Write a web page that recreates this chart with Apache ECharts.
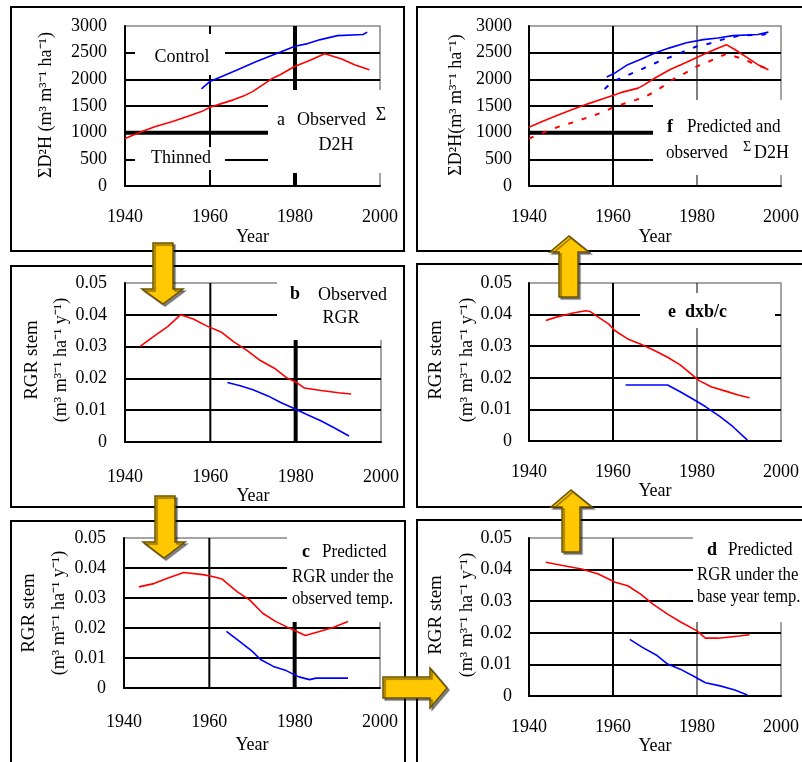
<!DOCTYPE html>
<html><head><meta charset="utf-8">
<script src="https://cdn.jsdelivr.net/npm/echarts@6/dist/echarts.min.js"></script>
<style>html,body{margin:0;padding:0;background:#fff}#c{width:802px;height:762px}</style>
</head><body><div id="c"></div>
<script>
// ---------- DATA ----------
const yearTicks = [1940, 1960, 1980, 2000];
// Panel a : observed sum D2H
const aThinYear = [1940, 1944, 1947, 1951, 1954.5, 1958, 1960, 1962.5, 1965.5, 1968, 1970, 1972.5, 1974.5, 1976.5, 1980, 1983, 1987, 1991, 1994, 1997.5];
const aThinVal  = [890, 1020, 1110, 1205, 1300, 1395, 1475, 1540, 1615, 1690, 1770, 1900, 2010, 2085, 2245, 2340, 2480, 2380, 2275, 2180];
const aCtrlYear = [1958, 1960, 1962.5, 1966.5, 1970.5, 1974.5, 1980, 1983, 1986, 1990, 1996, 1997];
const aCtrlVal  = [1820, 1960, 2045, 2180, 2320, 2445, 2620, 2670, 2745, 2820, 2840, 2885];
// Panel f : predicted sum D2H (observed = panel a, dashed)
const fThinYear = [1940, 1943, 1946.5, 1950, 1954, 1958, 1962, 1966, 1967.5, 1970, 1973.5, 1977.5, 1981.5, 1984.5, 1987, 1989, 1991.5, 1994.5, 1997];
const fThinVal  = [1100, 1205, 1315, 1425, 1540, 1645, 1755, 1835, 1900, 2025, 2180, 2320, 2465, 2570, 2650, 2560, 2430, 2275, 2180];
const fCtrlYear = [1958.5, 1960.5, 1963.5, 1966.5, 1970, 1973.5, 1977.5, 1981.5, 1985, 1988.5, 1994.5, 1997];
const fCtrlVal  = [2045, 2120, 2275, 2370, 2495, 2590, 2685, 2745, 2775, 2820, 2840, 2885];
// Panel b : observed RGR
const bThinYear = [1943.5, 1946.5, 1950, 1953, 1956, 1959, 1962.5, 1965.5, 1968.5, 1971.5, 1975, 1978, 1980, 1982, 1986, 1990, 1993];
const bThinVal  = [0.030, 0.033, 0.0363, 0.040, 0.0387, 0.0366, 0.0346, 0.0315, 0.0289, 0.0258, 0.0232, 0.0201, 0.0189, 0.0170, 0.0162, 0.0155, 0.0151];
const bCtrlYear = [1964, 1967, 1970, 1973.5, 1976.5, 1979.5, 1982.5, 1986, 1989, 1992.5];
const bCtrlVal  = [0.0187, 0.0177, 0.0164, 0.0145, 0.0124, 0.0106, 0.0087, 0.0066, 0.0045, 0.0019];
// Panel e : d x b / c
const eThinYear = [1944, 1946.5, 1950.5, 1953.5, 1954.5, 1956.5, 1959, 1960.5, 1963.5, 1966.5, 1969.5, 1973, 1976, 1978.5, 1980.5, 1983.5, 1987, 1990, 1992.5];
const eThinVal  = [0.0381, 0.0392, 0.0405, 0.0412, 0.0410, 0.0392, 0.0370, 0.0349, 0.0323, 0.0307, 0.0289, 0.0265, 0.0241, 0.0213, 0.0191, 0.0171, 0.0157, 0.0145, 0.0137];
const eCtrlYear = [1963, 1973, 1976, 1979, 1982, 1985.5, 1988.5, 1992];
const eCtrlVal  = [0.0177, 0.0177, 0.0156, 0.0133, 0.0109, 0.0077, 0.0046, 0.0003];
// Panel c : predicted RGR, observed temp.
const cThinYear = [1943.5, 1947, 1950, 1954, 1958.5, 1961, 1963, 1966.5, 1969.5, 1972.5, 1975.5, 1979, 1982.5, 1986, 1989, 1992.5];
const cThinVal  = [0.0337, 0.0348, 0.0365, 0.0385, 0.0378, 0.0371, 0.0363, 0.0321, 0.0293, 0.0249, 0.0222, 0.0198, 0.0175, 0.0189, 0.0202, 0.0222];
const cCtrlYear = [1964, 1967, 1970, 1972, 1975, 1978, 1981, 1983.5, 1985, 1992.5];
const cCtrlVal  = [0.0189, 0.0156, 0.0123, 0.0095, 0.0072, 0.0058, 0.0037, 0.0028, 0.0033, 0.0033];
// Panel d : predicted RGR, base year temp.
const dThinYear = [1944, 1948, 1952.5, 1956.5, 1960.5, 1963.5, 1966.5, 1969.5, 1973, 1976, 1980, 1982, 1985, 1990, 1992.5];
const dThinVal  = [0.0423, 0.0413, 0.0402, 0.0386, 0.0360, 0.0349, 0.0323, 0.0291, 0.0259, 0.0235, 0.0206, 0.0183, 0.0183, 0.0190, 0.0194];
const dCtrlYear = [1964, 1967, 1970.5, 1973, 1976, 1979, 1982, 1985.5, 1989, 1992];
const dCtrlVal  = [0.0179, 0.0154, 0.0128, 0.0101, 0.0085, 0.0064, 0.0042, 0.0032, 0.0019, 0.0003];
const d2hTicks = {min: 0, max: 3000, interval: 500};
const rgrTicks = {min: 0, max: 0.05, interval: 0.01};
const refYears = [1960, 1980];
const thickD2H = 1000;

// ---------- CHART ----------
const FONT = "'Liberation Serif','Times New Roman',serif";
const zip = (xs, ys) => xs.map((x, i) => [x, ys[i]]);
const RED = '#ff0000', BLUE = '#0000ff';

// grid geometry: a, f, b, e, c, d
const grids = [
  {left:125, top:26, width:255, height:160},
  {left:529, top:26, width:258, height:160},
  {left:125, top:283, width:256, height:159},
  {left:529, top:283, width:258, height:158},
  {left:124, top:538, width:256, height:150},
  {left:529, top:538, width:258, height:158}
];
const kinds = ['d2h','d2h','rgr','rgr','rgr','rgr'];
const xLabelMargin = [22, 22, 26, 22, 25, 22];
const yearGap = [42, 42, 42, 40, 48, 40];
const vWidth1980 = [4, 1, 4, 1, 4, 1];

const txt = {fontFamily: FONT, fontSize: 18, color: '#000'};
const plain = v => String(Math.round(v));

const option = {
  animation: false,
  grid: grids.map(g => Object.assign({show:true, borderColor:'#888', borderWidth:1.5, backgroundColor:'transparent'}, g)),
  xAxis: grids.map((g, i) => ({
    type:'value', gridIndex:i, min:yearTicks[0], max:yearTicks[yearTicks.length-1], interval:yearTicks[1]-yearTicks[0],
    axisLine:{show:true, onZero:false, lineStyle:{color:'#000', width:2}},
    axisTick:{show:false}, splitLine:{show:false},
    axisLabel:Object.assign({margin:xLabelMargin[i], formatter:plain}, txt),
    name:'Year', nameLocation:'middle', nameGap:yearGap[i], nameTextStyle:Object.assign({}, txt)
  })),
  yAxis: grids.map((g, i) => {
    const isD = kinds[i] === 'd2h';
    const t = isD ? d2hTicks : rgrTicks;
    const lab = Object.assign({margin: i % 2 === 0 ? 18 : 17}, txt);
    if (isD) lab.formatter = plain;
    return {
      type:'value', gridIndex:i, min:t.min, max:t.max, interval:t.interval,
      axisLine:{show:true, onZero:false, lineStyle:{color:'#000', width:2}},
      axisTick:{show:false},
      splitLine:{show:true, showMinLine:false, showMaxLine:false, lineStyle:{color:'#000', width:2}},
      axisLabel:lab
    };
  }),
  series: [],
  graphic: []
};

function dataLine(i, xs, ys, color, dashed) {
  option.series.push({
    type:'line', xAxisIndex:i, yAxisIndex:i, data:zip(xs, ys), symbol:'none', silent:true, z:10,
    lineStyle:{color:color, width: dashed ? 2 : 1.6, type: dashed ? [5, 9] : 'solid'}
  });
}
function refV(i, year, w) {
  const t = kinds[i] === 'd2h' ? d2hTicks : rgrTicks;
  option.series.push({type:'line', xAxisIndex:i, yAxisIndex:i, data:[[year, t.min],[year, t.max]],
    symbol:'none', silent:true, z:3, lineStyle:{color:'#000', width:w}});
}
function refH(i, val, w) {
  option.series.push({type:'line', xAxisIndex:i, yAxisIndex:i, data:[[yearTicks[0], val],[yearTicks[3], val]],
    symbol:'none', silent:true, z:3, lineStyle:{color:'#000', width:w}});
}
for (let i = 0; i < 6; i++) { refV(i, refYears[0], 2); refV(i, refYears[1], vWidth1980[i]); }
refH(0, thickD2H, 4); refH(1, thickD2H, 4);

dataLine(0, aThinYear, aThinVal, RED); dataLine(0, aCtrlYear, aCtrlVal, BLUE);
dataLine(1, aThinYear, aThinVal, RED, true); dataLine(1, aCtrlYear, aCtrlVal, BLUE, true);
dataLine(1, fThinYear, fThinVal, RED); dataLine(1, fCtrlYear, fCtrlVal, BLUE);
dataLine(2, bThinYear, bThinVal, RED); dataLine(2, bCtrlYear, bCtrlVal, BLUE);
dataLine(3, eThinYear, eThinVal, RED); dataLine(3, eCtrlYear, eCtrlVal, BLUE);
dataLine(4, cThinYear, cThinVal, RED); dataLine(4, cCtrlYear, cCtrlVal, BLUE);
dataLine(5, dThinYear, dThinVal, RED); dataLine(5, dCtrlYear, dCtrlVal, BLUE);

// ---------- decorations ----------
const G = option.graphic;
function box(x, y, w, h) { G.push({type:'rect', shape:{x, y, width:w, height:h}, style:{fill:'#fff'}, z:6, silent:true}); }
function label(text, x, y, o) {
  o = o || {};
  G.push({type:'text', x, y, z:7, silent:true, rotation:o.rot || 0, scaleX:o.sx || 1,
    style:{text, fill:'#000', font:(o.bold ? 'bold ' : '') + (o.size || 18) + 'px ' + FONT,
      textAlign:o.align || 'left', align:o.align || 'left', textVerticalAlign:'middle', verticalAlign:'middle'}});
}
function frame(x1, y1, x2, y2) {
  G.push({type:'rect', shape:{x:x1, y:y1, width:x2-x1, height:y2-y1}, style:{fill:'none', stroke:'#000', lineWidth:2}, z:8, silent:true});
}
function arrow(pts) {
  G.push({type:'polygon', shape:{points:pts}, z:30, silent:true,
    style:{fill:'#ffc800', stroke:'#6b5200', lineWidth:1.5, shadowColor:'rgba(0,0,0,0.45)', shadowOffsetX:2, shadowOffsetY:2, shadowBlur:1}});
}

// panel frames
frame(11, 7, 404, 251); frame(417, 7, 803, 251);
frame(11, 266, 404, 507); frame(417, 264, 803, 507);
frame(11, 521, 405, 766); frame(417, 520, 803, 766);

// panel a boxes
box(135, 34, 90, 41); label('Control', 182, 57, {align:'center'});
box(135, 147, 90, 23); label('Thinned', 181, 158, {align:'center'});
box(268, 90, 132, 83);
label('a', 277, 120); label('Observed', 297, 120); label('Σ', 381, 115, {align:'center'});
label('D2H', 336, 145, {align:'center'});
// panel f
box(653, 100, 149, 75);
label('f', 667, 127, {bold:true}); label('Predicted and', 687, 127, {sx:0.95});
label('observed', 666, 153, {sx:0.95}); label('Σ', 747, 147, {align:'center', size:14}); label('D2H', 754, 153);
// panel b
box(277, 268, 123, 72);
label('b', 290, 294, {bold:true}); label('Observed', 318, 295); label('RGR', 341, 318, {align:'center'});
// panel e
box(640, 293, 135, 35);
label('e  dxb/c', 668, 312, {bold:true});
// panel c
box(287, 526, 115, 96);
label('c', 302, 552, {bold:true}); label('Predicted', 322, 552, {sx:0.95});
label('RGR under the', 292, 577, {sx:0.93}); label('observed temp.', 292, 599, {sx:0.92});
// panel d
box(693, 526, 109, 96);
label('d', 707, 550, {bold:true}); label('Predicted', 728, 550, {sx:0.95});
label('RGR under the', 697, 575, {sx:0.93}); label('base year temp.', 697, 597, {sx:0.92});

// y axis titles
const R = Math.PI / 2;
label('ΣD²H (m³ m³⁻¹ ha⁻¹)', 46, 105, {rot:R, align:'center', size:18});
label('ΣD²H(m³ m³⁻¹ ha⁻¹)', 456, 105, {rot:R, align:'center', size:18});
[[32, 61, 360], [29, 59, 613], [436, 467, 360], [436, 467, 615]].forEach(p => {
  label('RGR stem', p[0], p[2], {rot:R, align:'center', size:19});
  label('(m³ m³⁻¹ ha⁻¹ y⁻¹)', p[1], p[2], {rot:R, align:'center', size:18});
});

// arrows
arrow([[153,243],[173,243],[173,289],[183,289],[163,304],[142,289],[153,289]]);
arrow([[155,496],[175,496],[175,542],[185,542],[164,558],[143,542],[155,542]]);
arrow([[383,677],[430,677],[430,668],[447,688],[430,708],[430,698],[383,698]]);
arrow([[562,552],[562,507],[551,507],[571,490],[592,507],[580,507],[580,552]]);
arrow([[559,297],[559,252],[550,252],[569,236],[589,252],[578,252],[578,297]]);

echarts.init(document.getElementById('c'), null, {renderer:'canvas'}).setOption(option);
</script>
</body></html>
